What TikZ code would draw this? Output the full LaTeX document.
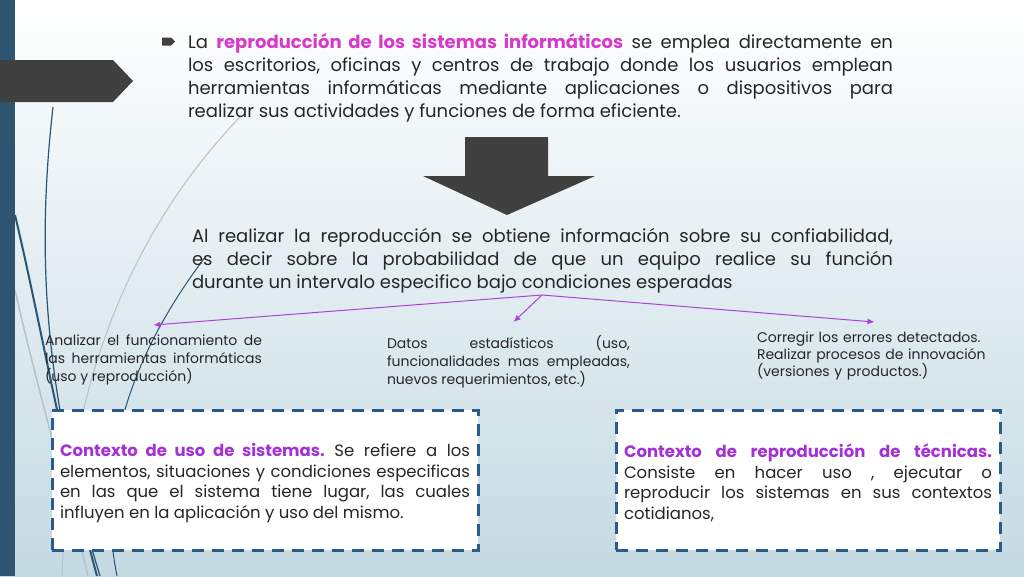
\documentclass[tikz,border=0pt]{standalone}
\usepackage{fontspec}
\setmainfont{Poppins}
\usepackage{tikz}
\usetikzlibrary{arrows.meta}
\usetikzlibrary{calc}
\definecolor{barblue}{HTML}{2D5470}
\definecolor{bgblue}{HTML}{C4DAE3}
\definecolor{slab}{HTML}{404040}
\definecolor{pinkhd}{HTML}{D63AC8}
\definecolor{purplehd}{HTML}{A531D6}
\definecolor{linkpurple}{HTML}{A845D2}
\definecolor{dashblue}{HTML}{2B5A8C}
\definecolor{wispgrey}{HTML}{B4C2CB}
\definecolor{ink}{HTML}{262626}
\frenchspacing
\newcommand{\wisp}[5] % style, start, control 1, control 2, end
{
	% thin curve of the slide theme
	\draw[#1] (#2) .. controls (#3) and (#4) .. (#5);
}
\newcommand{\pxfont}[2] % size in px, line distance in px
{%
	\fontsize{#1}{#2}\selectfont%
}

\begin{document}
\begin{tikzpicture}[x=1pt, y=-1pt,
	every node/.style={inner sep=0pt, outer sep=0pt, text=ink},
	para/.style={anchor=north west, align=justify},
	note/.style={anchor=north west, align=justify, font=\pxfont{14}{18}},
	ctxbox/.style={draw=dashblue, line width=3pt, dash pattern=on 12pt off 8pt, fill=white, minimum width=426pt, minimum height=140pt, align=justify, font=\pxfont{16.5}{20.5}},
	lnk/.style={draw=linkpurple, line width=1pt, -{Latex[length=7pt,width=6pt]}}]
	% slide: 1024 x 576 px
	\useasboundingbox (0,0) rectangle (1024,576);
	\shade[top color=white, bottom color=bgblue] (0,0) rectangle (1024,576);
	% theme decoration on the left
	\wisp{wispgrey, line width=1pt}{240,117}{170,190}{70,330}{62,576};
	\wisp{wispgrey, line width=1.5pt}{15,290}{40,400}{70,500}{88,576};
	\wisp{barblue, line width=1.2pt}{53,107}{38,240}{40,380}{100,576};
	\wisp{barblue, line width=2pt}{15,215}{40,320}{60,440}{97,576};
	\wisp{barblue, line width=1pt}{206,256}{150,330}{90,440}{117,576};
	\fill[barblue] (0,0) rectangle (15,576);
	\fill[slab] (0,60) -- (113,60) -- (133,81) -- (113,102) -- (0,102) -- cycle;
	
	% bullet and first paragraph
	\fill[slab] (162,37.5) -- (171,37.5) -- (175,41.5) -- (171,45.5) -- (162,45.5) -- cycle;
	\node[para, text width=705pt, font=\pxfont{18}{23}] (intro) at (188,33.5)
	{La \textcolor{pinkhd}{\textbf{reproducción de los sistemas informáticos}} se emplea directamente en\linebreak
	los escritorios, oficinas y centros de trabajo donde los usuarios emplean\linebreak
	herramientas informáticas mediante aplicaciones o dispositivos para\linebreak
	realizar sus actividades y funciones de forma eficiente.};
	
	% big arrow down
	\fill[slab] (465,137) -- (548,137) -- (548,176) -- (595,176) -- (507,215) -- (423,176) -- (465,176) -- cycle;
	
	\node[para, text width=701pt, font=\pxfont{18}{23}] (result) at (192,228)
	{Al realizar la reproducción se obtiene información sobre su confiabilidad,\linebreak
	es decir sobre la probabilidad de que un equipo realice su función\linebreak
	durante un intervalo especifico bajo condiciones esperadas};
	\coordinate (split) at (542,295);
	
	% three outcomes
	\node[note, text width=217pt] (analyse) at (45,335)
	{Analizar el funcionamiento de\linebreak las herramientas informáticas\linebreak (uso y reproducción)};
	\node[note, text width=243pt] (stats) at (387,335)
	{Datos estadísticos (uso,\linebreak funcionalidades mas empleadas,\linebreak nuevos requerimientos, etc.)};
	\node[note, align=left, text width=235pt, font=\pxfont{14}{17}] (fix) at (757,331.5)
	{Corregir los errores detectados.\\ Realizar procesos de innovación\\ (versiones y productos.)};
	
	\draw[lnk] (split) -- ([yshift=10pt]analyse.north);
	\draw[lnk] (split) -- ([xshift=5pt,yshift=13pt]stats.north);
	\draw[lnk] (split) -- ([yshift=9.5pt]fix.north);
	
	% context boxes
	\node[ctxbox, text width=410pt] (usectx) at (265,480)
	{\textcolor{purplehd}{\textbf{Contexto de uso de sistemas.}} Se refiere a los\linebreak
	elementos, situaciones y condiciones especificas\linebreak
	en las que el sistema tiene lugar, las cuales\linebreak
	influyen en la aplicación y uso del mismo.\par\vspace{-6pt}};
	\node[ctxbox, minimum width=384pt, text width=368pt] (repctx) at (808,480)
	{\textcolor{purplehd}{\textbf{Contexto de reproducción de técnicas.}}\linebreak
	Consiste en hacer uso , ejecutar o\linebreak
	reproducir los sistemas en sus contextos\linebreak
	cotidianos,\par\vspace{-6pt}};
\end{tikzpicture}
\end{document}
